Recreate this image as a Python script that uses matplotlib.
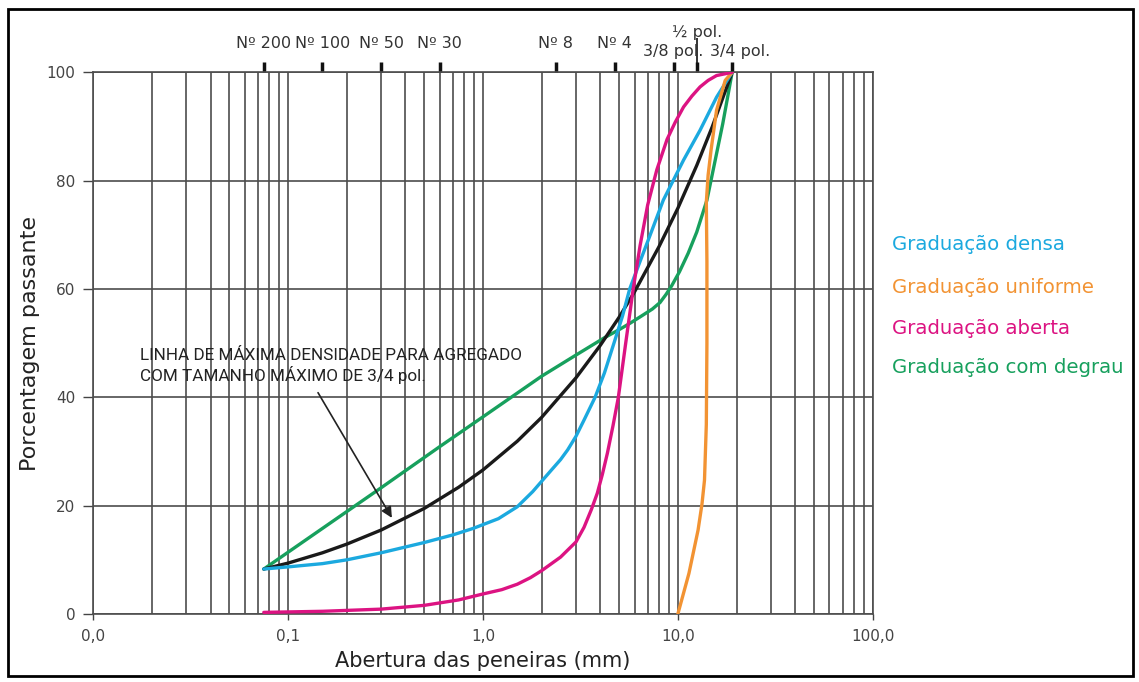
import matplotlib
matplotlib.use('Agg')
import matplotlib.pyplot as plt
from matplotlib.ticker import LogLocator, FixedLocator, FixedFormatter, NullFormatter
from matplotlib.patches import Rectangle

# sieve sizes shown on the top scale (mm)
sieve_sizes = [0.075, 0.15, 0.3, 0.6, 2.36, 4.75, 9.5, 12.5, 19.0]
sieve_names = ['Nº 200', 'Nº 100', 'Nº 50', 'Nº 30', 'Nº 8', 'Nº 4', '3/8 pol.', '½ pol.', '3/4 pol.']

# x tick labels (decades)
x_ticks = [0.01, 0.1, 1, 10, 100]
x_tick_labels = ['0,0', '0,1', '1,0', '10,0', '100,0']
y_ticks = [0, 20, 40, 60, 80, 100]

# curves: opening (mm) -> percent passing
max_density_x = [0.075, 0.1, 0.15, 0.2, 0.3, 0.5, 0.75, 1.0, 1.5, 2.0, 3.0, 4.0, 5.0, 6.0, 8.0, 10.0, 12.5, 15.0, 19.0]
max_density_y = [8.3, 9.4, 11.3, 12.9, 15.5, 19.5, 23.4, 26.6, 31.9, 36.3, 43.6, 49.6, 54.8, 59.5, 67.8, 74.9, 82.8, 89.9, 100]

dense_x = [0.075, 0.1, 0.15, 0.2, 0.3, 0.5, 0.7, 0.89, 1.2, 1.5, 1.8, 2.21, 2.5, 2.72, 3.0, 3.3, 3.76,
           4.2, 4.7, 5.2, 5.66, 6.4, 7.2, 8.42, 10.7, 13.0, 15.8, 19.0]
dense_y = [8.3, 8.7, 9.3, 10.0, 11.3, 13.2, 14.6, 15.8, 17.6, 19.8, 22.6, 26.3, 28.5, 30.3, 32.8, 35.8, 40.0,
           44.5, 50.0, 55.0, 60.0, 65.1, 69.9, 76.4, 83.8, 89.3, 95.4, 100]

uniform_x = [10.0, 11.4, 12.7, 13.3, 13.7, 14.0, 14.1, 14.1, 14.0, 14.3, 14.8, 15.8, 17.5, 19.0]
uniform_y = [0, 7.5, 15.5, 20.3, 24.7, 35.0, 50.0, 65.0, 76.0, 81.0, 85.6, 93.0, 98.5, 100]

open_x = [0.075, 0.15, 0.3, 0.5, 0.75, 1.0, 1.25, 1.5, 1.75, 2.0, 2.5, 3.0, 3.3, 3.6, 3.86, 4.1, 4.35, 4.65, 4.95,
          5.4, 5.9, 6.4, 7.0, 7.8, 8.8, 9.7, 10.7, 11.8, 13.0, 14.3, 15.8, 19.0]
open_y = [0.3, 0.5, 0.9, 1.6, 2.6, 3.7, 4.5, 5.5, 6.7, 8.0, 10.5, 13.3, 16.0, 19.3, 22.3, 25.8, 29.7, 34.8, 40.0,
          50.0, 60.0, 68.0, 75.5, 82.0, 87.6, 90.8, 93.6, 95.6, 97.3, 98.5, 99.4, 100]

gap_x = [0.075, 0.15, 0.3, 0.6, 1.0, 2.0, 3.0, 4.2, 5.0, 5.7, 6.5, 7.4, 8.1, 8.7, 9.3, 10.2, 11.3, 12.5, 14.1, 17.0, 19.0]
gap_y = [8.3, 15.8, 23.3, 30.9, 36.4, 43.9, 47.8, 51.0, 52.5, 53.7, 55.0, 56.3, 57.5, 59.0, 60.6, 63.2, 66.6, 70.5, 76.4, 90.5, 100]

cyan = '#1ba9df'
orange = '#f29333'
magenta = '#dc1382'
green = '#17a05d'

fig = plt.figure(figsize=(11.39, 6.82), dpi=100)
ax = fig.add_axes([0.0819, 0.0997, 0.6843, 0.7943])

ax.set_xscale('log')
ax.set_xlim(0.01, 100)
ax.set_ylim(0, 100)

# grid like the printed chart
ax.xaxis.set_major_locator(FixedLocator(x_ticks))
ax.xaxis.set_major_formatter(FixedFormatter(x_tick_labels))
ax.xaxis.set_minor_locator(LogLocator(base=10, subs=[2, 3, 4, 5, 6, 7, 8, 9]))
ax.xaxis.set_minor_formatter(NullFormatter())
ax.set_yticks(y_ticks)
ax.grid(True, which='both', axis='x', color='#4d4d4d', lw=1.2)
ax.grid(True, which='major', axis='y', color='#4d4d4d', lw=1.2)
ax.set_axisbelow(True)
ax.tick_params(axis='x', which='minor', length=0)
ax.tick_params(axis='x', which='major', length=4, width=1, color='#444444', pad=7,
               labelsize=11, labelcolor='#444444')
ax.tick_params(axis='y', length=7, width=1, color='#444444', pad=6,
               labelsize=11, labelcolor='#444444')
for s in ax.spines.values():
    s.set_color('#4d4d4d')
    s.set_linewidth(1.2)

# gradation curves
lw = 2.4
ax.plot(gap_x, gap_y, color=green, lw=lw, solid_capstyle='round', zorder=3)
ax.plot(max_density_x, max_density_y, color='#1a1a1a', lw=lw, solid_capstyle='round', zorder=4)
ax.plot(dense_x, dense_y, color=cyan, lw=lw, solid_capstyle='round', zorder=5)
ax.plot(open_x, open_y, color=magenta, lw=lw, solid_capstyle='round', zorder=6)
ax.plot(uniform_x, uniform_y, color=orange, lw=lw, solid_capstyle='round', zorder=5)

# top scale with sieve numbers
tr = ax.get_xaxis_transform()
ax.vlines(sieve_sizes, 1.0, 1.0185, transform=tr, color='#111111', lw=2.5, clip_on=False)
for size, name in zip(sieve_sizes, sieve_names):
    if name == '½ pol.':
        ax.vlines(size, 1.0, 1.064, transform=tr, color='#111111', lw=1.2, clip_on=False)
        ax.text(size, 1.074, name, transform=tr, ha='center', va='center', fontsize=11.5, color='#333333')
    elif 'pol' in name:
        dx = 0.0 if name == '3/8 pol.' else 0.04
        ax.text(size * 10 ** dx, 1.0375, name, transform=tr, ha='center', va='center', fontsize=11.5, color='#333333')
    else:
        ax.text(size, 1.054, name, transform=tr, ha='center', va='center', fontsize=11.5, color='#333333')

# annotation for the maximum density line
ax.text(0.0174, 45.8, 'LINHA DE MÁXIMA DENSIDADE PARA AGREGADO\nCOM TAMANHO MÁXIMO DE 3/4 pol.',
        ha='left', va='center', fontsize=12.3, color='#222222', linespacing=1.25,
        family=['Roboto', 'DejaVu Sans'])
ax.annotate('', xy=(0.3465, 17.3), xytext=(0.140, 41.3),
            arrowprops=dict(arrowstyle='-|>', color='#222222', lw=1.2, mutation_scale=16))

ax.set_xlabel('Abertura das peneiras (mm)', fontsize=15, color='#222222')
ax.xaxis.set_label_coords(0.5, -0.068)
ax.set_ylabel('Porcentagem passante', fontsize=16, color='#222222')
ax.yaxis.set_label_coords(-0.068, 0.5)

# series names at the right
fig.text(0.783, 0.641, 'Graduação densa', color=cyan, fontsize=14.2, va='center')
fig.text(0.783, 0.579, 'Graduação uniforme', color=orange, fontsize=14.2, va='center')
fig.text(0.783, 0.518, 'Graduação aberta', color=magenta, fontsize=14.2, va='center')
fig.text(0.783, 0.461, 'Graduação com degrau', color=green, fontsize=14.2, va='center')

# outer frame
fig.patches.append(Rectangle((0.007, 0.009), 0.988, 0.978, transform=fig.transFigure,
                             fill=False, edgecolor='black', lw=2))

fig.savefig('out.png', dpi=100)
